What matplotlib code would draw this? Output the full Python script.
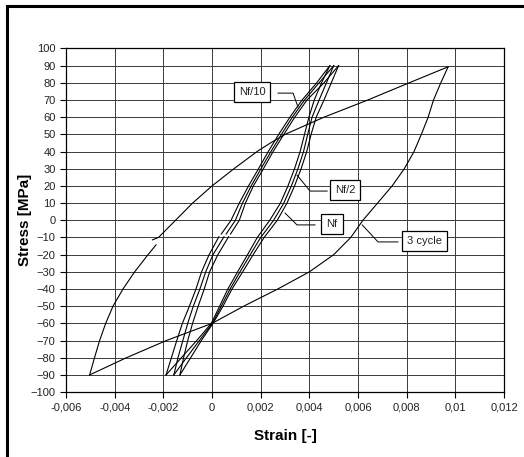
import numpy as np
import matplotlib.pyplot as plt
from matplotlib.lines import Line2D

plt.rcParams['font.family'] = ['Liberation Sans', 'DejaVu Sans']

# 3rd cycle loop (strain [-], stress [MPa]); nan marks the gap in the record
c3_up_strain = [0.0097, 0.0081, 0.0064, 0.0046, 0.0038, 0.0030, 0.0024, 0.00185, 0.0009,
                0.0, -0.0008, -0.0015, -0.0022, -0.00245, np.nan, -0.0023, -0.00263,
                -0.00318, -0.00366, -0.00407, -0.00437, -0.00462, -0.00483, -0.00503]
c3_up_stress = [89.3, 80, 70, 60, 55, 50, 45, 40, 30, 20, 10, 0, -10, -11.4, np.nan, -14.3,
                -20, -30, -40, -50, -60, -70, -80, -90]
c3_lo_strain = [-0.00503, -0.00352, -0.00188, 0.0, 0.0013, 0.0027, 0.0040, 0.0050,
                0.0057, 0.0062, 0.0068, 0.0074, 0.0079, 0.0083, 0.0086, 0.00888, 0.0091,
                0.0094, 0.0097]
c3_lo_stress = [-90, -80, -70, -60, -50, -40, -30, -20, -10, 0, 10, 20, 30, 40, 50, 60, 70,
                80, 89.3]

# narrow loops (Nf/10, Nf/2, Nf): unloading branch, top tip -> bottom tip
unl_stress = [90, 80, 70, 60, 50, 40, 30, 20, 10, 0, -8, np.nan, -9.6, -20, -30, -40, -50,
              -60, -70, -80, -90]
unl_nf10 = [0.00484, 0.0043, 0.0037, 0.0032, 0.00274, 0.00231, 0.00191, 0.0015, 0.00112,
            0.00078, 0.00038, np.nan, 0.00028, -0.00012, -0.00043, -0.00066, -0.00093,
            -0.00122, -0.00145, -0.00167, -0.00189]
unl_nf2 = [0.0050, 0.0044, 0.0038, 0.0033, 0.00285, 0.00242, 0.00201, 0.00161, 0.00125,
           0.00096, 0.00058, np.nan, 0.00049, 0.00004, -0.00026, -0.0005, -0.00077,
           -0.0010, -0.0012, -0.0014, -0.00157]
unl_nf = [0.0052, 0.0046, 0.0039, 0.0034, 0.00295, 0.00251, 0.00211, 0.0017, 0.00137,
          0.00112, 0.00076, np.nan, 0.00068, 0.00024, -0.0001, -0.00032, -0.00057,
          -0.0008, -0.0010, -0.00117, -0.00132]

# loading branch, bottom tip -> top tip
lod_stress = [-90, -80, -70, -60, -50, -40, -30, -20, -10, 0, 10, 20, 30, 40, 50, 60, 70, 80, 90]
lod_nf10 = [-0.00189, -0.00126, -0.00063, -0.00003, 0.00031, 0.00065, 0.00105, 0.00146,
            0.00186, 0.00237, 0.00281, 0.00312, 0.00339, 0.00362, 0.0038, 0.00398, 0.0042,
            0.0045, 0.00484]
lod_nf2 = [-0.00157, -0.00105, -0.00052, 0.00001, 0.00038, 0.00074, 0.00115, 0.00157,
           0.0020, 0.00253, 0.00295, 0.00326, 0.00353, 0.00376, 0.00393, 0.00411, 0.0044,
           0.0047, 0.0050]
lod_nf = [-0.00132, -0.00088, -0.00044, 0.00004, 0.00045, 0.00082, 0.00126, 0.00169,
          0.00214, 0.00268, 0.00308, 0.00339, 0.00366, 0.00389, 0.00407, 0.00428, 0.0046,
          0.0049, 0.0052]

x_ticks = np.arange(-0.006, 0.0121, 0.002)
x_labels = ['-0,006', '-0,004', '-0,002', '0', '0,002', '0,004', '0,006', '0,008', '0,01', '0,012']
y_ticks = np.arange(-100, 101, 10)

fig = plt.figure(figsize=(5.24, 4.57), dpi=100)
ax = fig.add_axes([0.126, 0.142, 0.836, 0.752])

ax.plot(c3_up_strain, c3_up_stress, color='black', lw=0.8)
ax.plot(c3_lo_strain, c3_lo_stress, color='black', lw=0.8)
for unl, lod in [(unl_nf10, lod_nf10), (unl_nf2, lod_nf2), (unl_nf, lod_nf)]:
    ax.plot(unl, unl_stress, color='black', lw=0.8)
    ax.plot(lod, lod_stress, color='black', lw=0.8)

# labels with elbow leader lines
labels = [
    ('Nf/10', 0.00164, 74.6, [0.00271, 0.00333, 0.00353], [74, 74, 65.9]),
    ('Nf/2', 0.00547, 17.6, [0.00473, 0.00403, 0.00349], [17, 17, 26.3]),
    ('Nf', 0.00493, -2.2, [0.00423, 0.00349, 0.0030], [-2.7, -2.7, 4.2]),
    ('3 cycle', 0.00875, -12.0, [0.00764, 0.00682, 0.00617], [-12.6, -12.6, -2.7]),
]
for txt, tx, ty, lx, ly in labels:
    ax.plot(lx, ly, color='black', lw=0.7)
    ax.text(tx, ty, txt, ha='center', va='center', fontsize=8, color='#222222',
            bbox=dict(boxstyle='square,pad=0.45', fc='white', ec='black', lw=0.9))

ax.set_xlim(-0.006, 0.012)
ax.set_ylim(-100, 100)
ax.set_xticks(x_ticks)
ax.set_xticklabels(x_labels)
ax.set_yticks(y_ticks)
ax.tick_params(labelsize=8, length=4, width=0.8, colors='black', labelcolor='#222222')
ax.grid(True, color='#3a3a3a', lw=0.7)
ax.set_axisbelow(True)
for s in ax.spines.values():
    s.set_linewidth(0.9)

ax.set_xlabel('Strain [-]', fontsize=11, fontweight='bold', labelpad=12)
ax.set_ylabel('Stress [MPa]', fontsize=11, fontweight='bold', labelpad=-1)

# outer frame (left and top only)
fig.add_artist(Line2D([7 / 524, 7 / 524], [0, 1 - 6 / 457], transform=fig.transFigure,
                      color='black', lw=2.2))
fig.add_artist(Line2D([7 / 524, 1], [1 - 6 / 457, 1 - 6 / 457], transform=fig.transFigure,
                      color='black', lw=2.2))

fig.savefig('out.png', dpi=100)
